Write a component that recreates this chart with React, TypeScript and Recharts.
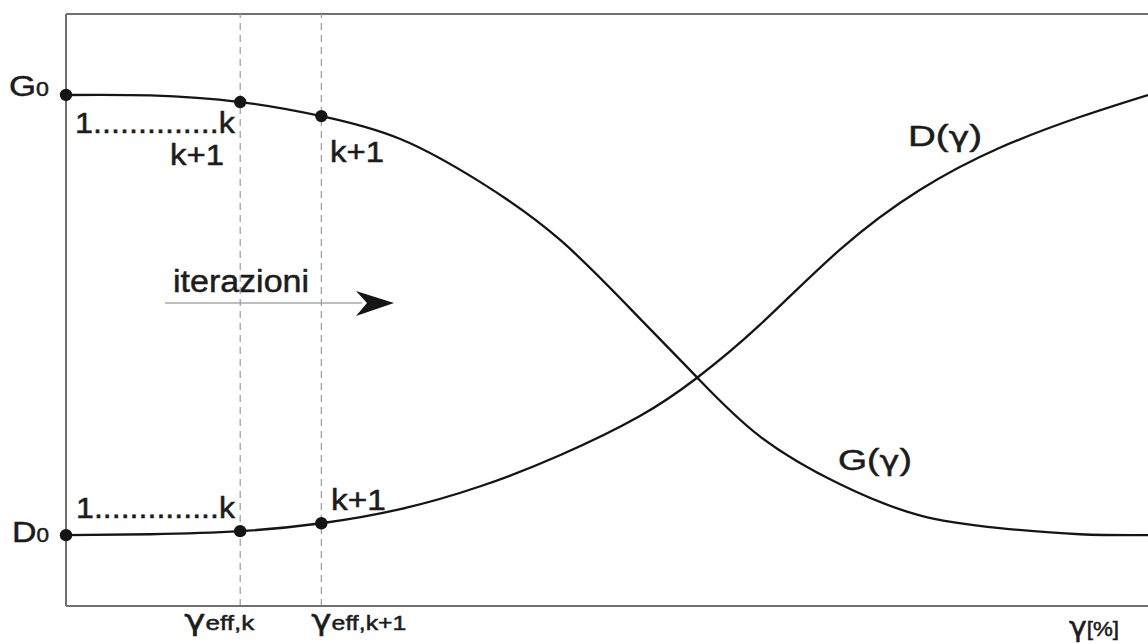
import { ComposedChart, Line, Scatter, XAxis, YAxis, ReferenceLine } from 'recharts';

// shear strain gamma (arbitrary units across the plot width)
const gamma = [0, 0.78, 1.61, 2.36, 3.09, 3.83, 4.57, 5.3, 5.83, 6.41, 7.15, 7.89, 8.63, 9.37, 10];
// normalised shear modulus G(γ) and damping D(γ)
const gValues = [1, 0.999, 0.984, 0.952, 0.9, 0.802, 0.67, 0.493, 0.359, 0.225, 0.116, 0.045, 0.016, 0.002, 0];
const dValues = [0, 0.002, 0.009, 0.027, 0.059, 0.111, 0.182, 0.27, 0.357, 0.477, 0.648, 0.784, 0.88, 0.95, 1];

// iteration points: start, k, k+1
const iterGamma = [0, 1.61, 2.36];
const gIter = [1, 0.984, 0.952];
const dIter = [0, 0.009, 0.027];

const G0 = 1;
const D0 = 0;
const xTicks = [1.61, 2.36];
const xTickSubs = ['eff,k', 'eff,k+1'];

const Y_MIN = -0.161;
const Y_MAX = 1.184;

const curveData = gamma.map((x, i) => ({ x, g: gValues[i], d: dValues[i] }));
const gIterData = iterGamma.map((x, i) => ({ x, y: gIter[i] }));
const dIterData = iterGamma.map((x, i) => ({ x, y: dIter[i] }));

const FONT = '"Liberation Sans", Arial, sans-serif';
const GREEK = '"DejaVu Sans", "Liberation Sans", sans-serif';
const INK = '#1c1c1c';
const AXIS = '#707070';
// scanned text looks a bit heavier than a plain regular face
const heavy = { stroke: INK, strokeWidth: 0.5 };

function XTick(props: any) {
  const { x, y, payload, index } = props;
  const sub = xTickSubs[xTicks.indexOf(payload.value)] ?? '';
  const start = index === 0 ? x - 56 : x - 10;
  const len = index === 0 ? 70 : 95;
  return (
    <text x={start} y={y + 24} fill={INK} fontFamily={FONT} textLength={len} lengthAdjust="spacingAndGlyphs" {...heavy}>
      <tspan fontSize={29} fontFamily={GREEK}>γ</tspan>
      <tspan fontSize={21}>{sub}</tspan>
    </text>
  );
}

function YTick(props: any) {
  const { y, payload } = props;
  const isG = payload.value === G0;
  return (
    <text
      x={isG ? 9 : 12}
      y={y + (isG ? 1 : 7)}
      fill={INK}
      fontFamily={FONT}
      textLength={isG ? 40 : 37}
      lengthAdjust="spacingAndGlyphs"
      {...heavy}
    >
      <tspan fontSize={30}>{isG ? 'G' : 'D'}</tspan>
      <tspan fontSize={20}>0</tspan>
    </text>
  );
}

const IterDot = (props: any) => <circle cx={props.cx} cy={props.cy} r={6.2} fill="#151515" />;

function Note({ x, y, len, size = 30, children }: any) {
  return (
    <text x={x} y={y} fontSize={size} fill={INK} fontFamily={FONT} textLength={len} lengthAdjust="spacingAndGlyphs" {...heavy}>
      {children}
    </text>
  );
}

function CurveName({ x, y, letter }: any) {
  return (
    <text x={x} y={y} fontSize={30} fill={INK} fontFamily={FONT} textLength={74} lengthAdjust="spacingAndGlyphs" {...heavy}>
      {letter}(<tspan fontFamily={GREEK} fontSize={27}>γ</tspan>)
    </text>
  );
}

export default function App() {
  return (
    <div style={{ width: 1148, height: 643, background: '#fff' }}>
      <style>{'body{margin:0;overflow:hidden}'}</style>
      <ComposedChart data={curveData} width={1148} height={643} margin={{ top: 14, right: 0, bottom: 7, left: 0 }}>
        <XAxis
          type="number"
          dataKey="x"
          domain={[0, 10]}
          ticks={xTicks}
          interval={0}
          tick={<XTick />}
          tickLine={false}
          tickSize={0}
          tickMargin={0}
          height={30}
          axisLine={{ stroke: AXIS, strokeWidth: 2 }}
        />
        <YAxis
          type="number"
          domain={[Y_MIN, Y_MAX]}
          ticks={[D0, G0]}
          interval={0}
          tick={<YTick />}
          tickLine={false}
          tickSize={0}
          tickMargin={0}
          width={66}
          axisLine={{ stroke: AXIS, strokeWidth: 2 }}
        />
        <ReferenceLine y={Y_MAX} stroke={AXIS} strokeWidth={2} />
        {xTicks.map((t) => (
          <ReferenceLine key={t} x={t} stroke="#9a9a9a" strokeWidth={1.2} strokeDasharray="7 5" />
        ))}
        <Line dataKey="g" type="natural" stroke="#151515" strokeWidth={2.3} dot={false} isAnimationActive={false} />
        <Line dataKey="d" type="natural" stroke="#151515" strokeWidth={2.3} dot={false} isAnimationActive={false} />
        <Scatter data={gIterData} dataKey="y" shape={IterDot} isAnimationActive={false} />
        <Scatter data={dIterData} dataKey="y" shape={IterDot} isAnimationActive={false} />

        <Note x={75} y={133} len={160}>1..............k</Note>
        <Note x={170} y={165} len={54}>k+1</Note>
        <Note x={330} y={162} len={54}>k+1</Note>
        <Note x={76} y={518} len={159}>1..............k</Note>
        <Note x={331} y={510} len={55}>k+1</Note>
        <Note x={173} y={292} len={136} size={31}>iterazioni</Note>
        <line x1={165} y1={303} x2={362} y2={303} stroke="#a8a8a8" strokeWidth={1.5} />
        <path d="M394,303 L356,291 L367,303 L356,316 Z" fill="#151515" />
        <CurveName x={908} y={146} letter="D" />
        <CurveName x={838} y={470} letter="G" />
        <text x={1069} y={636} fill={INK} fontFamily={FONT} textLength={50} lengthAdjust="spacingAndGlyphs" {...heavy}>
          <tspan fontSize={27} fontFamily={GREEK}>γ</tspan>
          <tspan fontSize={20}>[%]</tspan>
        </text>
      </ComposedChart>
    </div>
  );
}
